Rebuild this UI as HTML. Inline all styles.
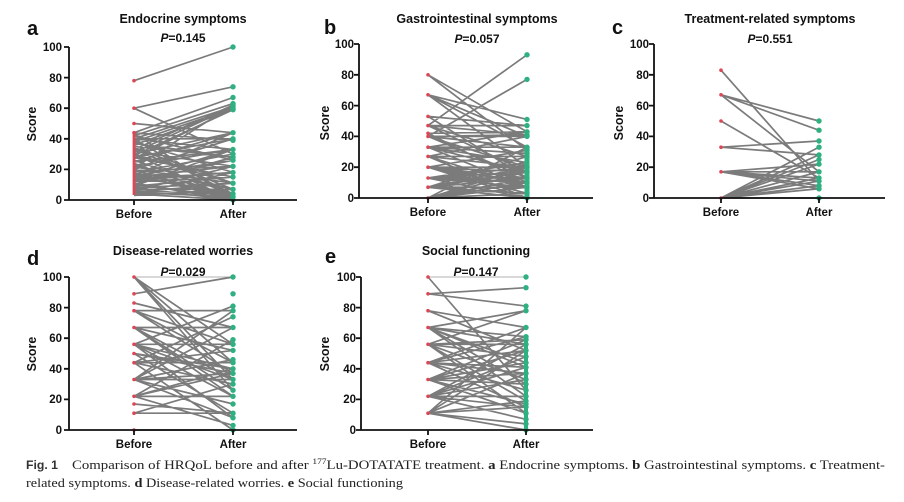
<!DOCTYPE html>
<html><head><meta charset="utf-8"><style>
html,body{margin:0;padding:0;background:#fff;}
svg{display:block;}
.t{font-family:"Liberation Sans",Arial,sans-serif;font-weight:bold;fill:#111;}
.ln{fill:none;stroke:#7b7b7b;stroke-width:1.7;}
.ax{stroke:#111;stroke-width:1.8;fill:none;}
.r{fill:#de4656;}
.g{fill:#2fb081;}
.cap{font-family:"Liberation Serif","Times New Roman",serif;font-size:12.5px;fill:#222;}
</style></head><body>
<svg width="904" height="502" viewBox="0 0 904 502" xmlns="http://www.w3.org/2000/svg">
<rect width="904" height="502" fill="#fff"/>

<!-- ================= Panel a ================= -->
<g>
<text class="t" x="27" y="35" font-size="20">a</text>
<text class="t" x="183" y="23" font-size="12.5" text-anchor="middle">Endocrine symptoms</text>
<text class="t" x="183" y="42" font-size="12" text-anchor="middle"><tspan font-style="italic">P</tspan>=0.145</text>
<text class="t" transform="translate(36,124) rotate(-90)" font-size="12.5" text-anchor="middle">Score</text>
<g class="t" font-size="11.5" text-anchor="end">
<text x="62" y="51">100</text><text x="62" y="82">80</text><text x="62" y="112">60</text><text x="62" y="143">40</text><text x="62" y="173">20</text><text x="62" y="204">0</text>
</g>
<g transform="translate(134,200) scale(1,-1.53)">
<path class="ln" vector-effect="non-scaling-stroke" d="M0 78L99 100M0 60L99 74M0 60L99 30M0 50L99 44M0 44L99 67M0 42L99 63M0 40L99 61M0 38L99 60M0 36L99 59M0 33L99 62M0 30L99 44M0 28L99 40M0 44L99 39M0 40L99 33M0 35L99 28M0 32L99 22M0 30L99 11M0 27L99 60M0 25L99 44M0 22L99 33M0 20L99 40M0 18L99 30M0 16L99 26M0 15L99 22M0 13L99 18M0 12L99 15M0 10L99 28M0 9L99 33M0 8L99 11M0 7L99 7M0 6L99 4M0 5L99 2M0 4L99 0M0 44L99 0M0 40L99 2M0 36L99 4M0 33L99 7M0 30L99 0M0 28L99 15M0 26L99 4M0 24L99 0M0 22L99 7M0 20L99 11M0 18L99 2M0 17L99 0M0 15L99 4M0 14L99 18M0 12L99 26M0 11L99 0M0 10L99 2M0 9L99 15M0 8L99 0M0 6L99 22M0 5L99 11M0 4L99 18M0 3L99 7M0 20L99 0M0 25L99 33M0 40L99 40M0 38L99 18M0 42L99 26M0 34L99 11M0 23L99 2M0 19L99 22M0 31L99 61M0 29L99 59M0 21L99 62M0 16L99 44M0 14L99 33M0 37L99 28"/>
</g>
<line x1="134" y1="132" x2="134" y2="195" stroke="#de4656" stroke-width="2.8"/>
<g class="r"><circle cx="134" cy="80.7" r="1.8"/><circle cx="134" cy="108.2" r="1.8"/><circle cx="134" cy="123.5" r="1.8"/><circle cx="134" cy="132.7" r="1.8"/></g>
<g class="g">
<circle cx="233" cy="47" r="2.7"/><circle cx="233" cy="86.8" r="2.7"/><circle cx="233" cy="97.5" r="2.7"/><circle cx="233" cy="103.6" r="2.7"/><circle cx="233" cy="105.1" r="2.7"/><circle cx="233" cy="106.7" r="2.7"/><circle cx="233" cy="108.2" r="2.7"/><circle cx="233" cy="109.7" r="2.7"/><circle cx="233" cy="132.7" r="2.7"/><circle cx="233" cy="138.8" r="2.7"/><circle cx="233" cy="140.3" r="2.7"/><circle cx="233" cy="149.5" r="2.7"/><circle cx="233" cy="154.1" r="2.7"/><circle cx="233" cy="157.2" r="2.7"/><circle cx="233" cy="160.2" r="2.7"/><circle cx="233" cy="166.3" r="2.7"/><circle cx="233" cy="172.5" r="2.7"/><circle cx="233" cy="177" r="2.7"/><circle cx="233" cy="183.2" r="2.7"/><circle cx="233" cy="189.3" r="2.7"/><circle cx="233" cy="193.9" r="2.7"/><circle cx="233" cy="196.9" r="2.7"/><circle cx="233" cy="200" r="2.7"/>
</g>
<path class="ax" d="M69 47V200H297M64 47H69M64 77.6H69M64 108.2H69M64 138.8H69M64 169.4H69M64 200H69M134 200V205M233 200V205"/>
<text class="t" x="134" y="218" font-size="11.5" text-anchor="middle">Before</text>
<text class="t" x="233" y="218" font-size="11.5" text-anchor="middle">After</text>
</g>

<!-- ================= Panel b ================= -->
<g>
<text class="t" x="324" y="34" font-size="20">b</text>
<text class="t" x="477" y="23" font-size="12.5" text-anchor="middle">Gastrointestinal symptoms</text>
<text class="t" x="477" y="43" font-size="12" text-anchor="middle"><tspan font-style="italic">P</tspan>=0.057</text>
<text class="t" transform="translate(329,123) rotate(-90)" font-size="12.5" text-anchor="middle">Score</text>
<g class="t" font-size="11.5" text-anchor="end">
<text x="354" y="48">100</text><text x="354" y="79">80</text><text x="354" y="110">60</text><text x="354" y="140">40</text><text x="354" y="171">20</text><text x="354" y="202">0</text>
</g>
<g transform="translate(428,198) scale(1,-1.54)">
<path class="ln" vector-effect="non-scaling-stroke" d="M0 47L99 93M0 40L99 77M0 80L99 43M0 80L99 31M0 67L99 51M0 67L99 40M0 67L99 20M0 53L99 47M0 47L99 47M0 47L99 41M0 47L99 17M0 42L99 43M0 40L99 40M0 40L99 33M0 40L99 13M0 33L99 43M0 33L99 33M0 33L99 29M0 33L99 7M0 27L99 40M0 27L99 20M0 27L99 27M0 20L99 31M0 20L99 20M0 20L99 13M0 20L99 3M0 13L99 17M0 13L99 10M0 13L99 0M0 13L99 20M0 7L99 13M0 7L99 3M0 7L99 27M0 7L99 0M0 0L99 20M0 0L99 7M0 0L99 0M0 0L99 33M0 0L99 13M0 20L99 7M0 27L99 7M0 33L99 17M0 13L99 7M0 7L99 17M0 0L99 3M0 20L99 0M0 40L99 20M0 47L99 27M0 53L99 13M0 27L99 0M0 0L99 10M0 20L99 10M0 13L99 23M0 7L99 20M0 33L99 23M0 42L99 10M0 67L99 33M0 40L99 41M0 20L99 17M0 13L99 13M0 7L99 7M0 0L99 17"/>
</g>
<g class="r"><circle cx="428" cy="74.8" r="1.8"/><circle cx="428" cy="94.8" r="1.8"/><circle cx="428" cy="116.4" r="1.8"/><circle cx="428" cy="125.6" r="1.8"/><circle cx="428" cy="133.3" r="1.8"/><circle cx="428" cy="136.4" r="1.8"/><circle cx="428" cy="147.2" r="1.8"/><circle cx="428" cy="156.4" r="1.8"/><circle cx="428" cy="167.2" r="1.8"/><circle cx="428" cy="178" r="1.8"/><circle cx="428" cy="187.2" r="1.8"/><circle cx="428" cy="198" r="1.8"/></g>
<line x1="527" y1="147" x2="527" y2="198" stroke="#2fb081" stroke-width="5"/>
<g class="g">
<circle cx="527" cy="54.8" r="2.7"/><circle cx="527" cy="79.4" r="2.7"/><circle cx="527" cy="119.5" r="2.7"/><circle cx="527" cy="125.6" r="2.7"/><circle cx="527" cy="131.8" r="2.7"/><circle cx="527" cy="134.9" r="2.7"/><circle cx="527" cy="136.4" r="2.7"/><circle cx="527" cy="147.2" r="2.7"/><circle cx="527" cy="150.3" r="2.7"/><circle cx="527" cy="153.3" r="2.7"/><circle cx="527" cy="156.4" r="2.7"/><circle cx="527" cy="167.2" r="2.7"/><circle cx="527" cy="171.8" r="2.7"/><circle cx="527" cy="178" r="2.7"/><circle cx="527" cy="182.6" r="2.7"/><circle cx="527" cy="187.2" r="2.7"/><circle cx="527" cy="193.4" r="2.7"/><circle cx="527" cy="198" r="2.7"/>
</g>
<path class="ax" d="M359 44V198H593M354 44H359M354 74.8H359M354 105.6H359M354 136.4H359M354 167.2H359M354 198H359M428 198V203M527 198V203"/>
<text class="t" x="428" y="216" font-size="11.5" text-anchor="middle">Before</text>
<text class="t" x="527" y="216" font-size="11.5" text-anchor="middle">After</text>
</g>

<!-- ================= Panel c ================= -->
<g>
<text class="t" x="612" y="34" font-size="20">c</text>
<text class="t" x="770" y="23" font-size="12.5" text-anchor="middle">Treatment-related symptoms</text>
<text class="t" x="770" y="43" font-size="12" text-anchor="middle"><tspan font-style="italic">P</tspan>=0.551</text>
<text class="t" transform="translate(623,123) rotate(-90)" font-size="12.5" text-anchor="middle">Score</text>
<g class="t" font-size="11.5" text-anchor="end">
<text x="649" y="48">100</text><text x="649" y="79">80</text><text x="649" y="110">60</text><text x="649" y="140">40</text><text x="649" y="171">20</text><text x="649" y="202">0</text>
</g>
<g transform="translate(721,198) scale(1,-1.54)">
<path class="ln" vector-effect="non-scaling-stroke" d="M0 83L98 11M0 67L98 50M0 67L98 44M0 67L98 17M0 50L98 13M0 33L98 37M0 33L98 28M0 17L98 22M0 17L98 17M0 17L98 11M0 17L98 8M0 17L98 6M0 17L98 13M0 0L98 33M0 0L98 25M0 0L98 28M0 0L98 22M0 0L98 17M0 0L98 11M0 0L98 8M0 0L98 6M0 0L98 0M0 0L98 13"/>
</g>
<g class="r"><circle cx="721" cy="70.2" r="1.8"/><circle cx="721" cy="94.8" r="1.8"/><circle cx="721" cy="121" r="1.8"/><circle cx="721" cy="147.2" r="1.8"/><circle cx="721" cy="171.8" r="1.8"/><circle cx="721" cy="198" r="1.8"/></g>
<g class="g">
<circle cx="819" cy="121" r="2.7"/><circle cx="819" cy="130.2" r="2.7"/><circle cx="819" cy="141" r="2.7"/><circle cx="819" cy="147.2" r="2.7"/><circle cx="819" cy="154.9" r="2.7"/><circle cx="819" cy="159.5" r="2.7"/><circle cx="819" cy="164.1" r="2.7"/><circle cx="819" cy="171.8" r="2.7"/><circle cx="819" cy="178" r="2.7"/><circle cx="819" cy="181.1" r="2.7"/><circle cx="819" cy="185.7" r="2.7"/><circle cx="819" cy="188.8" r="2.7"/><circle cx="819" cy="198" r="2.7"/>
</g>
<path class="ax" d="M654 44V198H885M649 44H654M649 74.8H654M649 105.6H654M649 136.4H654M649 167.2H654M649 198H654M721 198V203M819 198V203"/>
<text class="t" x="721" y="216" font-size="11.5" text-anchor="middle">Before</text>
<text class="t" x="819" y="216" font-size="11.5" text-anchor="middle">After</text>
</g>

<!-- ================= Panel d ================= -->
<g>
<text class="t" x="27" y="265" font-size="20">d</text>
<text class="t" x="183" y="255" font-size="12.5" text-anchor="middle">Disease-related worries</text>
<g transform="translate(134,430) scale(1,-1.53)">
<path fill="none" stroke="#b0b0b0" stroke-width="1" vector-effect="non-scaling-stroke" d="M0 100L99 100"/>
<path class="ln" vector-effect="non-scaling-stroke" d="M0 100L99 56M0 100L99 44M0 100L99 33M0 100L99 26M0 89L99 100M0 83L99 67M0 78L99 78M0 78L99 56M0 78L99 37M0 78L99 44M0 67L99 67M0 67L99 52M0 67L99 33M0 67L99 26M0 67L99 22M0 56L99 56M0 56L99 81M0 56L99 40M0 56L99 22M0 56L99 33M0 50L99 37M0 50L99 11M0 44L99 74M0 44L99 44M0 44L99 30M0 44L99 0M0 33L99 78M0 33L99 67M0 33L99 33M0 33L99 46M0 33L99 8M0 33L99 17M0 22L99 59M0 22L99 40M0 22L99 22M0 22L99 3M0 22L99 37M0 17L99 11M0 11L99 11M0 11L99 30M0 0L99 0M0 44L99 52M0 50L99 40M0 33L99 37M0 56L99 8"/>
</g>
<text class="t" x="183" y="276" font-size="12" text-anchor="middle"><tspan font-style="italic">P</tspan>=0.029</text>
<text class="t" transform="translate(36,354) rotate(-90)" font-size="12.5" text-anchor="middle">Score</text>
<g class="t" font-size="11.5" text-anchor="end">
<text x="62" y="281">100</text><text x="62" y="312">80</text><text x="62" y="342">60</text><text x="62" y="373">40</text><text x="62" y="403">20</text><text x="62" y="434">0</text>
</g>
<g class="r"><circle cx="134" cy="277" r="1.8"/><circle cx="134" cy="293.8" r="1.8"/><circle cx="134" cy="303" r="1.8"/><circle cx="134" cy="310.7" r="1.8"/><circle cx="134" cy="327.5" r="1.8"/><circle cx="134" cy="344.3" r="1.8"/><circle cx="134" cy="353.5" r="1.8"/><circle cx="134" cy="362.7" r="1.8"/><circle cx="134" cy="379.5" r="1.8"/><circle cx="134" cy="396.3" r="1.8"/><circle cx="134" cy="404" r="1.8"/><circle cx="134" cy="413.2" r="1.8"/><circle cx="134" cy="430" r="1.8"/></g>
<g class="g">
<circle cx="233" cy="277" r="2.7"/><circle cx="233" cy="293.8" r="2.7"/><circle cx="233" cy="306.1" r="2.7"/><circle cx="233" cy="310.7" r="2.7"/><circle cx="233" cy="316.8" r="2.7"/><circle cx="233" cy="327.5" r="2.7"/><circle cx="233" cy="339.7" r="2.7"/><circle cx="233" cy="344.3" r="2.7"/><circle cx="233" cy="350.4" r="2.7"/><circle cx="233" cy="359.6" r="2.7"/><circle cx="233" cy="362.7" r="2.7"/><circle cx="233" cy="368.8" r="2.7"/><circle cx="233" cy="373.4" r="2.7"/><circle cx="233" cy="379.5" r="2.7"/><circle cx="233" cy="384.1" r="2.7"/><circle cx="233" cy="390.2" r="2.7"/><circle cx="233" cy="396.3" r="2.7"/><circle cx="233" cy="404" r="2.7"/><circle cx="233" cy="413.2" r="2.7"/><circle cx="233" cy="417.8" r="2.7"/><circle cx="233" cy="425.4" r="2.7"/><circle cx="233" cy="430" r="2.7"/>
</g>
<path class="ax" d="M69 277V430H297M64 277H69M64 307.6H69M64 338.2H69M64 368.8H69M64 399.4H69M64 430H69M134 430V435M233 430V435"/>
<text class="t" x="134" y="448" font-size="11.5" text-anchor="middle">Before</text>
<text class="t" x="233" y="448" font-size="11.5" text-anchor="middle">After</text>
</g>

<!-- ================= Panel e ================= -->
<g>
<text class="t" x="325" y="263" font-size="20">e</text>
<text class="t" x="476" y="255" font-size="12.5" text-anchor="middle">Social functioning</text>
<g transform="translate(428,430) scale(1,-1.53)">
<path fill="none" stroke="#b0b0b0" stroke-width="1" vector-effect="non-scaling-stroke" d="M0 100L98 100"/>
<path class="ln" vector-effect="non-scaling-stroke" d="M0 100L98 26M0 89L98 93M0 89L98 81M0 78L98 67M0 67L98 78M0 67L98 61M0 67L98 44M0 67L98 30M0 67L98 22M0 56L98 78M0 56L98 56M0 56L98 48M0 56L98 33M0 56L98 19M0 44L98 67M0 44L98 52M0 44L98 41M0 44L98 26M0 44L98 15M0 33L98 59M0 33L98 44M0 33L98 37M0 33L98 17M0 33L98 11M0 22L98 56M0 22L98 48M0 22L98 33M0 22L98 22M0 22L98 7M0 11L98 67M0 11L98 52M0 11L98 37M0 11L98 19M0 11L98 4M0 11L98 0M0 11L98 15M0 22L98 15M0 33L98 30M0 44L98 61M0 56L98 11M0 67L98 41M0 78L98 52M0 56L98 59M0 33L98 52M0 22L98 41M0 44L98 37M0 67L98 56"/>
</g>
<text class="t" x="476" y="276" font-size="12" text-anchor="middle"><tspan font-style="italic">P</tspan>=0.147</text>
<text class="t" transform="translate(329,354) rotate(-90)" font-size="12.5" text-anchor="middle">Score</text>
<g class="t" font-size="11.5" text-anchor="end">
<text x="356" y="281">100</text><text x="356" y="312">80</text><text x="356" y="342">60</text><text x="356" y="373">40</text><text x="356" y="403">20</text><text x="356" y="434">0</text>
</g>
<g class="r"><circle cx="428" cy="277" r="1.8"/><circle cx="428" cy="293.8" r="1.8"/><circle cx="428" cy="310.7" r="1.8"/><circle cx="428" cy="327.5" r="1.8"/><circle cx="428" cy="344.3" r="1.8"/><circle cx="428" cy="362.7" r="1.8"/><circle cx="428" cy="379.5" r="1.8"/><circle cx="428" cy="396.3" r="1.8"/><circle cx="428" cy="413.2" r="1.8"/></g>
<line x1="526" y1="336" x2="526" y2="430" stroke="#2fb081" stroke-width="4"/>
<g class="g">
<circle cx="526" cy="277" r="2.7"/><circle cx="526" cy="287.7" r="2.7"/><circle cx="526" cy="306.1" r="2.7"/><circle cx="526" cy="310.7" r="2.7"/><circle cx="526" cy="327.5" r="2.7"/><circle cx="526" cy="336.7" r="2.7"/><circle cx="526" cy="339.7" r="2.7"/><circle cx="526" cy="344.3" r="2.7"/><circle cx="526" cy="350.4" r="2.7"/><circle cx="526" cy="356.6" r="2.7"/><circle cx="526" cy="362.7" r="2.7"/><circle cx="526" cy="367.3" r="2.7"/><circle cx="526" cy="373.4" r="2.7"/><circle cx="526" cy="379.5" r="2.7"/><circle cx="526" cy="384.1" r="2.7"/><circle cx="526" cy="390.2" r="2.7"/><circle cx="526" cy="396.3" r="2.7"/><circle cx="526" cy="400.9" r="2.7"/><circle cx="526" cy="404" r="2.7"/><circle cx="526" cy="407" r="2.7"/><circle cx="526" cy="413.2" r="2.7"/><circle cx="526" cy="419.3" r="2.7"/><circle cx="526" cy="423.9" r="2.7"/><circle cx="526" cy="430" r="2.7"/>
</g>
<path class="ax" d="M361 277V430H593M356 277H361M356 307.6H361M356 338.2H361M356 368.8H361M356 399.4H361M356 430H361M428 430V435M526 430V435"/>
<text class="t" x="428" y="448" font-size="11.5" text-anchor="middle">Before</text>
<text class="t" x="526" y="448" font-size="11.5" text-anchor="middle">After</text>
</g>

<!-- ================= Caption ================= -->
<text x="26" y="469" font-family="Liberation Sans, Arial, sans-serif" font-weight="bold" font-size="11.5" fill="#333" textLength="32" lengthAdjust="spacingAndGlyphs">Fig. 1</text>
<text class="cap" x="72" y="469" textLength="813" lengthAdjust="spacingAndGlyphs">Comparison of HRQoL before and after <tspan font-size="8" dy="-5">177</tspan><tspan dy="5">Lu-DOTATATE treatment. </tspan><tspan font-weight="bold">a</tspan> Endocrine symptoms. <tspan font-weight="bold">b</tspan> Gastrointestinal symptoms. <tspan font-weight="bold">c</tspan> Treatment-</text>
<text class="cap" x="26" y="487" textLength="377" lengthAdjust="spacingAndGlyphs">related symptoms. <tspan font-weight="bold">d</tspan> Disease-related worries. <tspan font-weight="bold">e</tspan> Social functioning</text>
</svg>
</body></html>
